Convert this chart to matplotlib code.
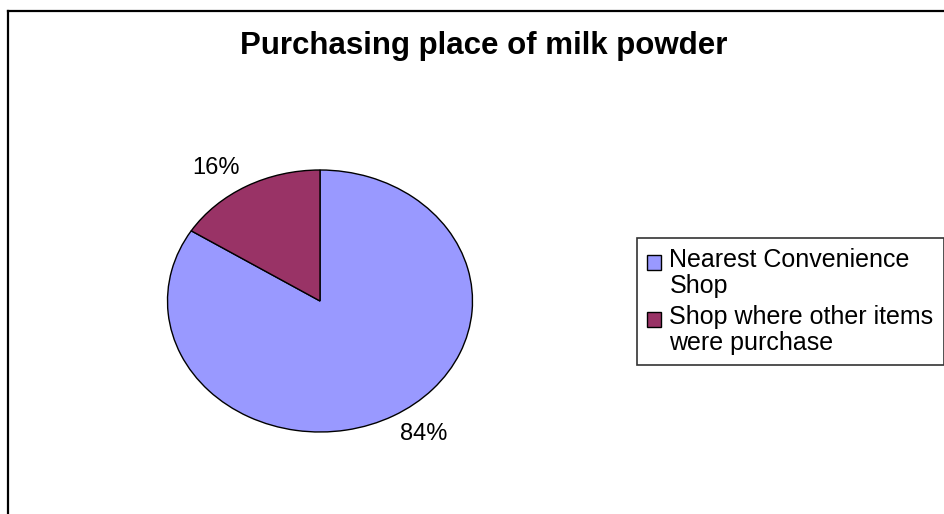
import matplotlib
matplotlib.use("Agg")
import numpy as np
import matplotlib.pyplot as plt
from matplotlib.patches import Patch, Rectangle
from matplotlib.lines import Line2D
from matplotlib.legend_handler import HandlerPatch

plt.rcParams['font.family'] = ['Liberation Sans', 'DejaVu Sans']

# Доли мест покупки
labels = ['Nearest Convenience\nShop', 'Shop where other items\nwere purchase']
shares = [84, 16]
colors = ['#9999FF', '#993366']

W, H = 945, 514
fig = plt.figure(figsize=(W / 100, H / 100), dpi=100)

# Рамка области диаграммы (правая и нижняя стороны за краем)
fig.add_artist(Line2D([8 / W, 8 / W], [0, 1 - 11 / H], color='black', linewidth=1.6,
                      transform=fig.transFigure, solid_capstyle='projecting'))
fig.add_artist(Line2D([8 / W, 1.0], [1 - 11 / H, 1 - 11 / H], color='black', linewidth=1.6,
                      transform=fig.transFigure, solid_capstyle='projecting'))

# Эллиптический круг: центр (320, 301), радиусы 152 x 131 пикселей
cx, cy, rx, ry = 320, 301, 152.5, 131
ax = fig.add_axes([(cx - rx) / W, (H - cy - ry) / H, 2 * rx / W, 2 * ry / H])
wedges, texts = ax.pie(
    shares, colors=colors, startangle=90, counterclock=False,
    wedgeprops=dict(edgecolor='black', linewidth=1.0),
)
ax.set_aspect('auto')
ax.set_xlim(-1, 1)
ax.set_ylim(-1, 1)

# Подписи процентов снаружи секторов
for w, v in zip(wedges, shares):
    mid = np.deg2rad((w.theta1 + w.theta2) / 2)
    ax.text(1.41 * np.cos(mid), 1.16 * np.sin(mid), f'{v}%', ha='center', va='center',
            fontsize=17, clip_on=False)

fig.text(484 / W, 1 - 46 / H, 'Purchasing place of milk powder', ha='center', va='center',
         fontsize=22.5, fontweight='bold')


# Квадратик легенды на уровне первой строки подписи
def top_square(legend, orig_handle, xdescent, ydescent, width, height, fontsize):
    return Rectangle((-xdescent, -ydescent + 8), width, height)


handles = [Patch(facecolor=c, edgecolor='black', linewidth=1.0) for c in colors]
leg = fig.legend(handles, labels, loc='upper left', bbox_to_anchor=(637 / W, 1 - 238 / H),
                 frameon=True, fancybox=False, edgecolor='black', fontsize=18,
                 handlelength=0.55, handleheight=0.55, handletextpad=0.35,
                 borderpad=0.4, labelspacing=0.3, borderaxespad=0,
                 handler_map={Patch: HandlerPatch(patch_func=top_square)})
leg.get_frame().set_linewidth(1.2)
for t in leg.get_texts():
    t.set_linespacing(1.1)

plt.savefig('out.png', dpi=100)
